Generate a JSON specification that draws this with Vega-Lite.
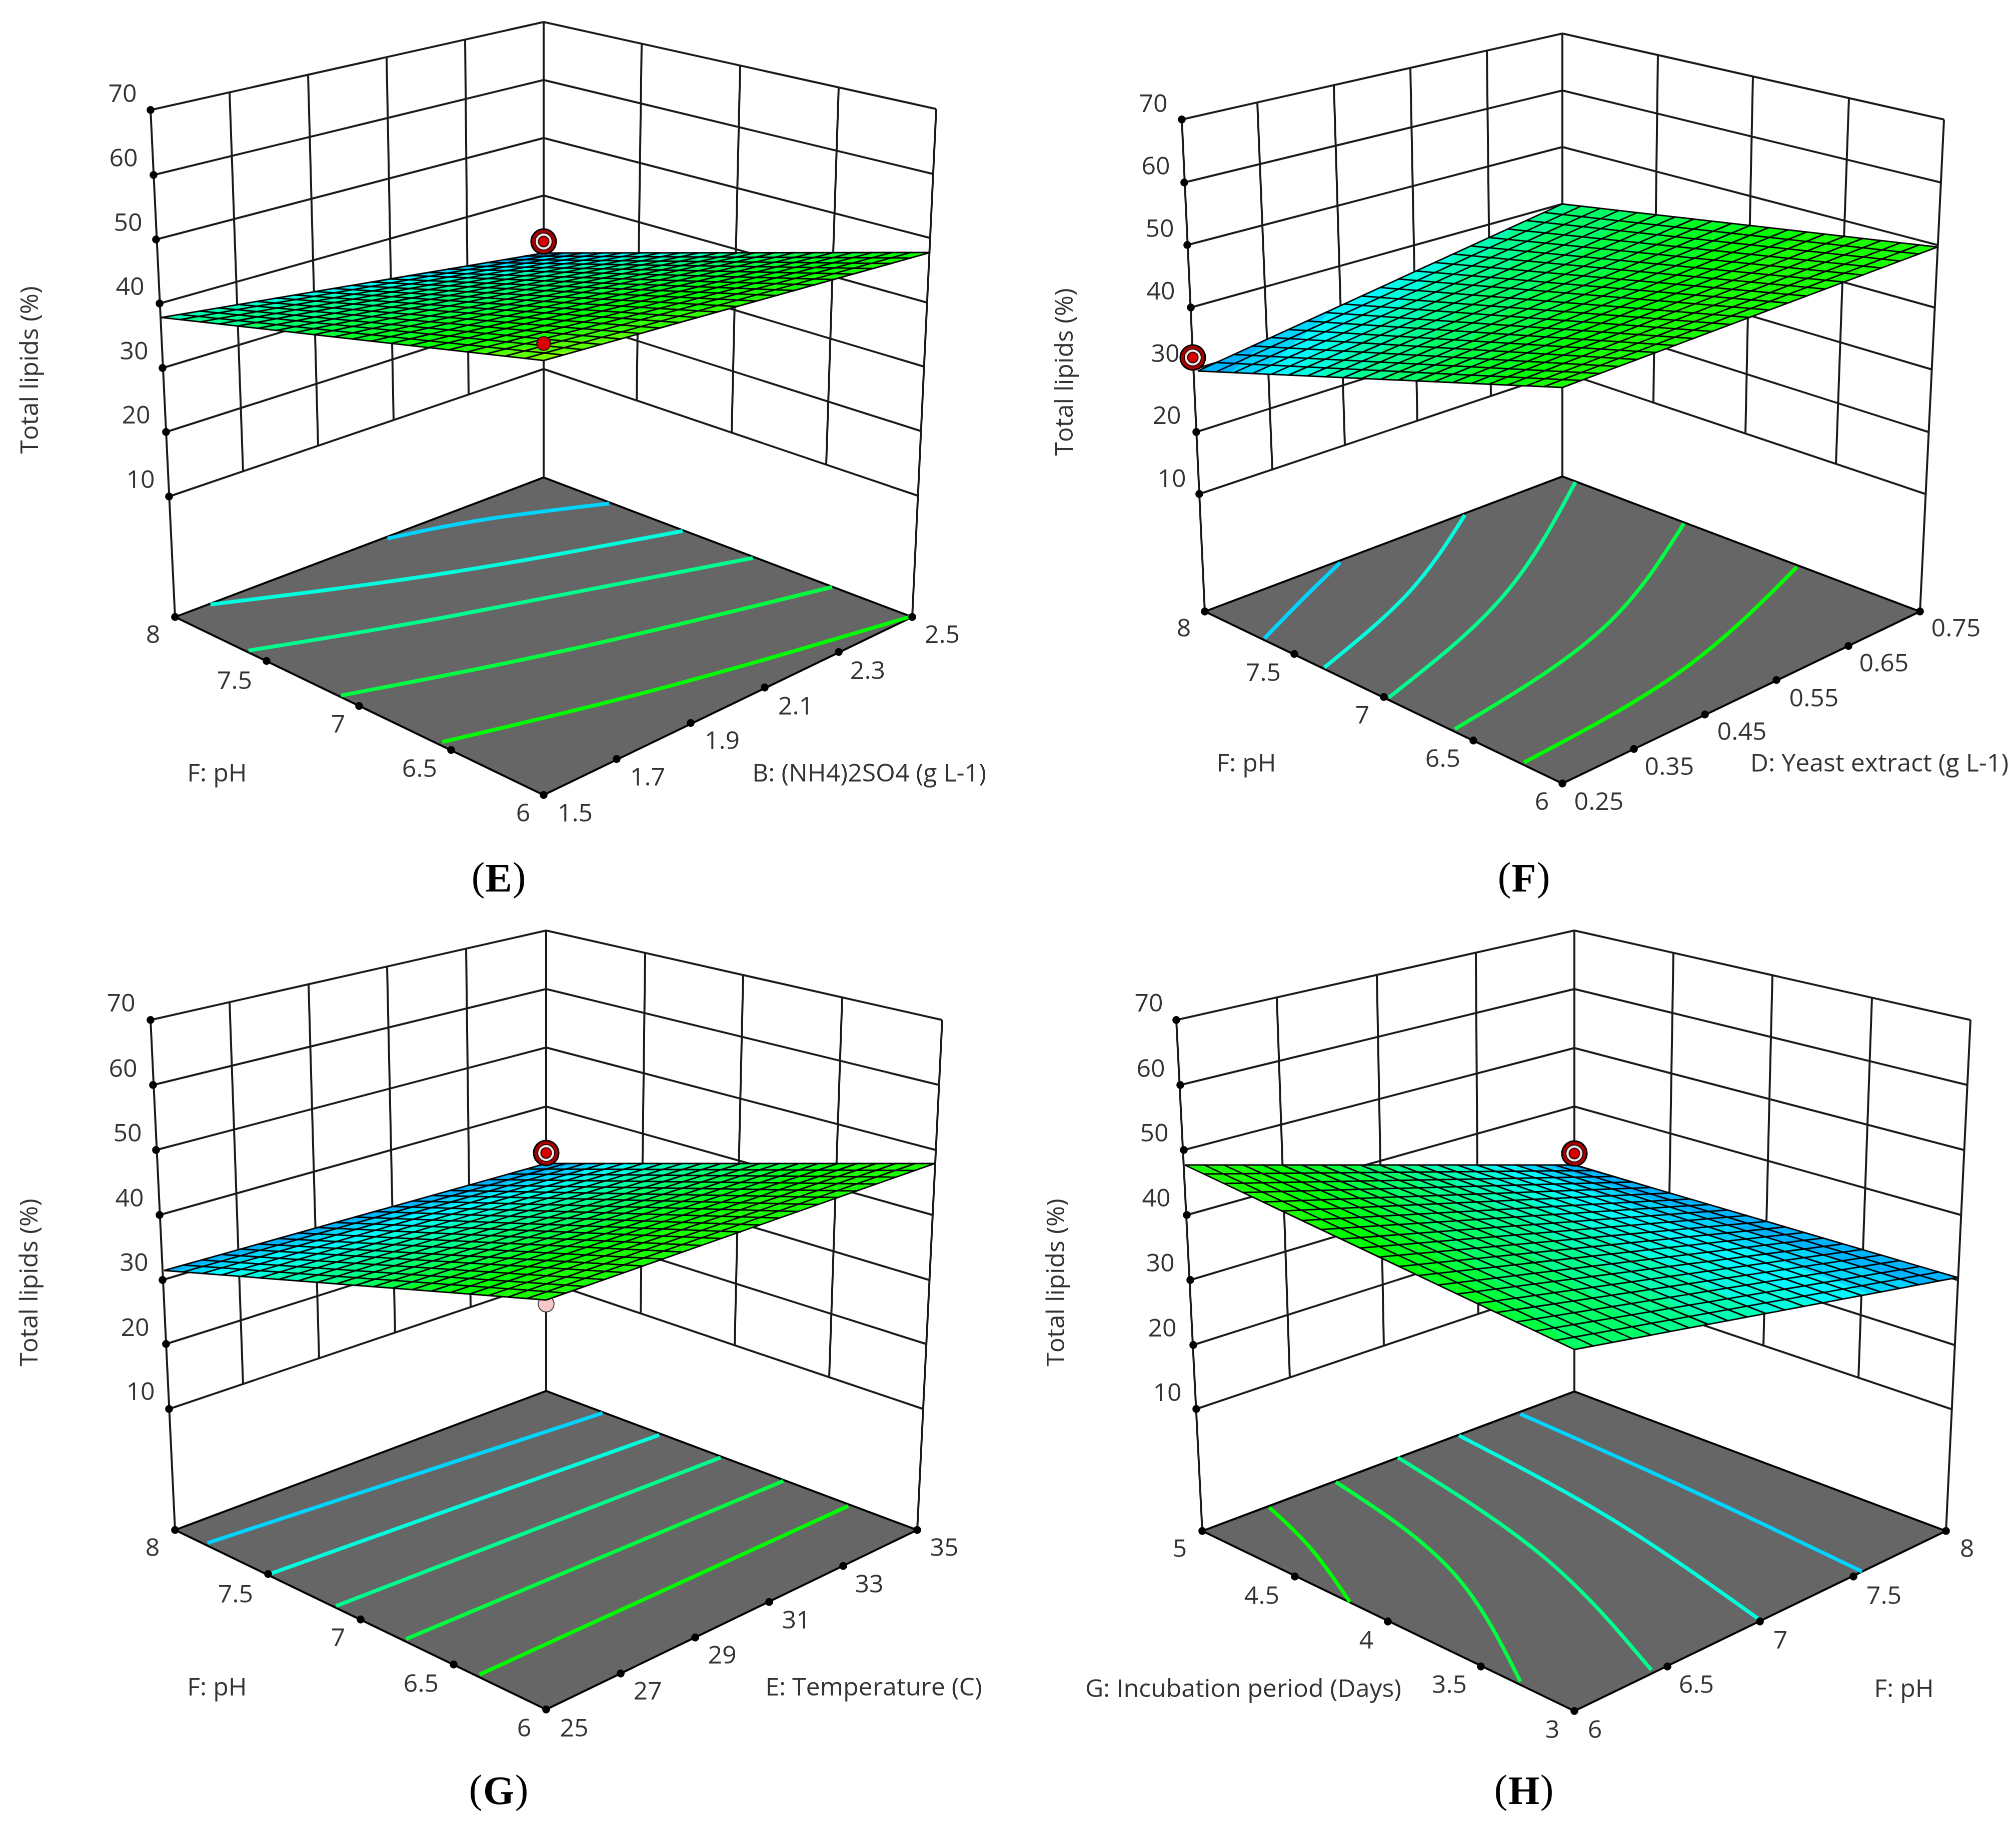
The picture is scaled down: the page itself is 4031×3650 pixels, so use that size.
{"$schema":"https://vega.github.io/schema/vega-lite/v6.json","width":4031,"height":3650,"autosize":{"type":"fit","contains":"padding"},"padding":0,"background":"white","config":{"view":{"stroke":null}},
"datasets":{
"walls":[
{"x":301,"y":220,"x2":1087,"y2":44},{"x":307,"y":350,"x2":1087,"y2":160},{"x":312,"y":479,"x2":1087,"y2":276},{"x":319,"y":607,"x2":1087,"y2":391},{"x":325,"y":736,"x2":1087,"y2":506},{"x":332,"y":864,"x2":1087,"y2":622},{"x":338,"y":993,"x2":1087,"y2":738},
{"x":1087,"y":44,"x2":1872,"y2":218},{"x":1087,"y":160,"x2":1866,"y2":348},{"x":1087,"y":276,"x2":1860,"y2":476},{"x":1087,"y":391,"x2":1853,"y2":605},{"x":1087,"y":506,"x2":1847,"y2":733},{"x":1087,"y":622,"x2":1841,"y2":862},{"x":1087,"y":738,"x2":1834,"y2":991},
{"x":301,"y":220,"x2":350,"y2":1234},{"x":1087,"y":44,"x2":1087,"y2":955},{"x":1872,"y":218,"x2":1824,"y2":1234},{"x":459,"y":185,"x2":486,"y2":942},{"x":616,"y":149,"x2":636,"y2":891},{"x":773,"y":115,"x2":787,"y2":840},{"x":930,"y":79,"x2":937,"y2":789},{"x":1283,"y":87,"x2":1273,"y2":801},{"x":1480,"y":131,"x2":1463,"y2":866},{"x":1677,"y":174,"x2":1652,"y2":929},
{"x":2363,"y":239,"x2":3124,"y2":67},{"x":2368,"y":365,"x2":3124,"y2":181},{"x":2374,"y":490,"x2":3124,"y2":294},{"x":2381,"y":615,"x2":3124,"y2":408},{"x":2386,"y":739,"x2":3124,"y2":520},{"x":2392,"y":864,"x2":3124,"y2":631},{"x":2398,"y":988,"x2":3124,"y2":744},
{"x":3124,"y":67,"x2":3887,"y2":239},{"x":3124,"y":181,"x2":3881,"y2":365},{"x":3124,"y":294,"x2":3874,"y2":490},{"x":3124,"y":408,"x2":3868,"y2":615},{"x":3124,"y":520,"x2":3863,"y2":739},{"x":3124,"y":631,"x2":3856,"y2":864},{"x":3124,"y":744,"x2":3850,"y2":988},
{"x":2363,"y":239,"x2":2409,"y2":1223},{"x":3124,"y":67,"x2":3124,"y2":953},{"x":3887,"y":239,"x2":3839,"y2":1223},{"x":2514,"y":204,"x2":2544,"y2":939},{"x":2667,"y":170,"x2":2689,"y2":890},{"x":2820,"y":135,"x2":2834,"y2":841},{"x":2973,"y":101,"x2":2981,"y2":792},{"x":3315,"y":109,"x2":3306,"y2":805},{"x":3505,"y":152,"x2":3490,"y2":867},{"x":3697,"y":196,"x2":3671,"y2":928},
{"x":301,"y":2040,"x2":1092,"y2":1861},{"x":306,"y":2170,"x2":1092,"y2":1978},{"x":312,"y":2300,"x2":1092,"y2":2095},{"x":319,"y":2430,"x2":1092,"y2":2213},{"x":325,"y":2560,"x2":1092,"y2":2330},{"x":332,"y":2688,"x2":1092,"y2":2447},{"x":338,"y":2818,"x2":1092,"y2":2563},
{"x":1092,"y":1861,"x2":1884,"y2":2040},{"x":1092,"y":1978,"x2":1878,"y2":2170},{"x":1092,"y":2095,"x2":1871,"y2":2300},{"x":1092,"y":2213,"x2":1865,"y2":2430},{"x":1092,"y":2330,"x2":1858,"y2":2560},{"x":1092,"y":2447,"x2":1852,"y2":2688},{"x":1092,"y":2563,"x2":1846,"y2":2818},
{"x":301,"y":2040,"x2":350,"y2":3060},{"x":1092,"y":1861,"x2":1092,"y2":2782},{"x":1884,"y":2040,"x2":1834,"y2":3060},{"x":459,"y":2004,"x2":486,"y2":2769},{"x":617,"y":1969,"x2":638,"y2":2717},{"x":774,"y":1933,"x2":790,"y2":2666},{"x":932,"y":1897,"x2":941,"y2":2614},{"x":1290,"y":1906,"x2":1281,"y2":2627},{"x":1486,"y":1950,"x2":1469,"y2":2691},{"x":1684,"y":1995,"x2":1658,"y2":2754},
{"x":2352,"y":2040,"x2":3148,"y2":1861},{"x":2360,"y":2170,"x2":3148,"y2":1978},{"x":2367,"y":2300,"x2":3148,"y2":2096},{"x":2373,"y":2430,"x2":3148,"y2":2213},{"x":2380,"y":2560,"x2":3148,"y2":2330},{"x":2386,"y":2690,"x2":3148,"y2":2447},{"x":2392,"y":2818,"x2":3148,"y2":2563},
{"x":3148,"y":1861,"x2":3940,"y2":2040},{"x":3148,"y":1978,"x2":3934,"y2":2170},{"x":3148,"y":2096,"x2":3927,"y2":2300},{"x":3148,"y":2213,"x2":3921,"y2":2430},{"x":3148,"y":2330,"x2":3914,"y2":2560},{"x":3148,"y":2447,"x2":3908,"y2":2690},{"x":3148,"y":2563,"x2":3901,"y2":2818},
{"x":2352,"y":2040,"x2":2404,"y2":3062},{"x":3148,"y":1861,"x2":3148,"y2":2783},{"x":3940,"y":2040,"x2":3891,"y2":3062},{"x":2553,"y":1995,"x2":2579,"y2":2756},{"x":2753,"y":1950,"x2":2767,"y2":2692},{"x":2951,"y":1906,"x2":2956,"y2":2628},{"x":3346,"y":1906,"x2":3334,"y2":2626},{"x":3544,"y":1950,"x2":3526,"y2":2691},{"x":3743,"y":1995,"x2":3716,"y2":2756}],
"floor":[
{"id":"E","x":350,"y":1234},{"id":"E","x":1087,"y":955},{"id":"E","x":1824,"y":1234},{"id":"E","x":1087,"y":1590},{"id":"E","x":350,"y":1234},
{"id":"F","x":2409,"y":1223},{"id":"F","x":3124,"y":953},{"id":"F","x":3839,"y":1223},{"id":"F","x":3124,"y":1567},{"id":"F","x":2409,"y":1223},
{"id":"G","x":350,"y":3060},{"id":"G","x":1092,"y":2782},{"id":"G","x":1834,"y":3060},{"id":"G","x":1092,"y":3419},{"id":"G","x":350,"y":3060},
{"id":"H","x":2404,"y":3062},{"id":"H","x":3148,"y":2783},{"id":"H","x":3891,"y":3062},{"id":"H","x":3148,"y":3422},{"id":"H","x":2404,"y":3062}],
"contours":[
{"id":"E1","lipid":30.3,"x":775,"y":1077},{"id":"E1","lipid":30.3,"x":969,"y":1039},{"id":"E1","lipid":30.3,"x":1218,"y":1007},
{"id":"E2","lipid":33.3,"x":421,"y":1209},{"id":"E2","lipid":33.3,"x":893,"y":1146},{"id":"E2","lipid":33.3,"x":1365,"y":1062},
{"id":"E3","lipid":36.5,"x":497,"y":1301},{"id":"E3","lipid":36.5,"x":893,"y":1234},{"id":"E3","lipid":36.5,"x":1505,"y":1116},
{"id":"E4","lipid":39.5,"x":682,"y":1391},{"id":"E4","lipid":39.5,"x":1148,"y":1297},{"id":"E4","lipid":39.5,"x":1664,"y":1174},
{"id":"E5","lipid":42,"x":884,"y":1484},{"id":"E5","lipid":42,"x":1339,"y":1372},{"id":"E5","lipid":42,"x":1818,"y":1234},
{"id":"F1","lipid":30.3,"x":2680,"y":1125},{"id":"F1","lipid":30.3,"x":2609,"y":1194},{"id":"F1","lipid":30.3,"x":2528,"y":1277},
{"id":"F2","lipid":33.3,"x":2929,"y":1030},{"id":"F2","lipid":33.3,"x":2816,"y":1186},{"id":"F2","lipid":33.3,"x":2648,"y":1335},
{"id":"F3","lipid":36.5,"x":3150,"y":964},{"id":"F3","lipid":36.5,"x":3004,"y":1194},{"id":"F3","lipid":36.5,"x":2777,"y":1395},
{"id":"F4","lipid":39.5,"x":3367,"y":1047},{"id":"F4","lipid":39.5,"x":3198,"y":1263},{"id":"F4","lipid":39.5,"x":2909,"y":1458},
{"id":"F5","lipid":42,"x":3593,"y":1134},{"id":"F5","lipid":42,"x":3360,"y":1343},{"id":"F5","lipid":42,"x":3047,"y":1525},
{"id":"G1","lipid":30.3,"x":415,"y":3086},{"id":"G1","lipid":30.3,"x":1205,"y":2826},
{"id":"G2","lipid":33.3,"x":542,"y":3147},{"id":"G2","lipid":33.3,"x":1318,"y":2870},
{"id":"G3","lipid":36.5,"x":672,"y":3212},{"id":"G3","lipid":36.5,"x":1441,"y":2915},
{"id":"G4","lipid":39.5,"x":812,"y":3278},{"id":"G4","lipid":39.5,"x":1566,"y":2962},
{"id":"G5","lipid":42,"x":959,"y":3349},{"id":"G5","lipid":42,"x":1696,"y":3012},
{"id":"H1","lipid":42,"x":2538,"y":3015},{"id":"H1","lipid":42,"x":2622,"y":3098},{"id":"H1","lipid":42,"x":2699,"y":3204},
{"id":"H2","lipid":39.5,"x":2671,"y":2964},{"id":"H2","lipid":39.5,"x":2900,"y":3139},{"id":"H2","lipid":39.5,"x":3040,"y":3363},
{"id":"H3","lipid":36.5,"x":2795,"y":2915},{"id":"H3","lipid":36.5,"x":3088,"y":3115},{"id":"H3","lipid":36.5,"x":3302,"y":3340},
{"id":"H4","lipid":33.3,"x":2917,"y":2871},{"id":"H4","lipid":33.3,"x":3224,"y":3039},{"id":"H4","lipid":33.3,"x":3515,"y":3237},
{"id":"H5","lipid":30.3,"x":3040,"y":2828},{"id":"H5","lipid":30.3,"x":3380,"y":2980},{"id":"H5","lipid":30.3,"x":3723,"y":3143}],
"dots":[
{"x":301,"y":220},{"x":307,"y":350},{"x":312,"y":479},{"x":319,"y":607},{"x":325,"y":736},{"x":332,"y":864},{"x":338,"y":993},{"x":350,"y":1234},{"x":533,"y":1322},{"x":718,"y":1412},{"x":902,"y":1500},{"x":1087,"y":1590},{"x":1233,"y":1518},{"x":1381,"y":1446},{"x":1529,"y":1375},{"x":1677,"y":1304},{"x":1824,"y":1234},
{"x":2363,"y":239},{"x":2368,"y":365},{"x":2374,"y":490},{"x":2381,"y":615},{"x":2392,"y":864},{"x":2398,"y":988},{"x":2409,"y":1223},{"x":2588,"y":1308},{"x":2767,"y":1394},{"x":2946,"y":1481},{"x":3124,"y":1567},{"x":3267,"y":1498},{"x":3409,"y":1429},{"x":3552,"y":1360},{"x":3696,"y":1292},{"x":3839,"y":1223},
{"x":301,"y":2040},{"x":306,"y":2170},{"x":312,"y":2300},{"x":319,"y":2430},{"x":325,"y":2560},{"x":332,"y":2688},{"x":338,"y":2818},{"x":350,"y":3060},{"x":536,"y":3148},{"x":721,"y":3239},{"x":907,"y":3329},{"x":1092,"y":3419},{"x":1241,"y":3347},{"x":1390,"y":3275},{"x":1538,"y":3204},{"x":1686,"y":3132},{"x":1834,"y":3060},
{"x":2352,"y":2040},{"x":2360,"y":2170},{"x":2367,"y":2300},{"x":2373,"y":2430},{"x":2380,"y":2560},{"x":2386,"y":2690},{"x":2392,"y":2818},{"x":2404,"y":3062},{"x":2589,"y":3153},{"x":2775,"y":3243},{"x":2961,"y":3333},{"x":3148,"y":3422},{"x":3334,"y":3333},{"x":3519,"y":3243},{"x":3706,"y":3153},{"x":3891,"y":3062}],
"surface":[
{"id":"E47","lipid":47,"x":323,"y":635},{"id":"E47","lipid":47,"x":1087,"y":506},{"id":"E47","lipid":47,"x":1860,"y":505},{"id":"E47","lipid":47,"x":1087,"y":721},
{"id":"E45","lipid":45.5,"x":323,"y":635},{"id":"E45","lipid":45.5,"x":1087,"y":506},{"id":"E45","lipid":45.5,"x":1860,"y":505},{"id":"E45","lipid":45.5,"x":1164,"y":699},{"id":"E45","lipid":45.5,"x":1033,"y":715},
{"id":"E44","lipid":44,"x":323,"y":635},{"id":"E44","lipid":44,"x":1087,"y":506},{"id":"E44","lipid":44,"x":1860,"y":505},{"id":"E44","lipid":44,"x":1319,"y":656},{"id":"E44","lipid":44,"x":972,"y":708},
{"id":"E43","lipid":43,"x":323,"y":635},{"id":"E43","lipid":43,"x":1087,"y":506},{"id":"E43","lipid":43,"x":1860,"y":505},{"id":"E43","lipid":43,"x":1551,"y":591},{"id":"E43","lipid":43,"x":927,"y":703},
{"id":"E42","lipid":42,"x":323,"y":635},{"id":"E42","lipid":42,"x":1087,"y":506},{"id":"E42","lipid":42,"x":1852,"y":505},{"id":"E42","lipid":42,"x":877,"y":697},
{"id":"E41","lipid":40.75,"x":323,"y":635},{"id":"E41","lipid":40.75,"x":1087,"y":506},{"id":"E41","lipid":40.75,"x":1773,"y":505},{"id":"E41","lipid":40.75,"x":773,"y":686},
{"id":"E40","lipid":39.5,"x":323,"y":635},{"id":"E40","lipid":39.5,"x":1087,"y":506},{"id":"E40","lipid":39.5,"x":1693,"y":505},{"id":"E40","lipid":39.5,"x":668,"y":674},
{"id":"E38","lipid":38,"x":323,"y":635},{"id":"E38","lipid":38,"x":1087,"y":506},{"id":"E38","lipid":38,"x":1609,"y":505},{"id":"E38","lipid":38,"x":572,"y":663},
{"id":"E36","lipid":36.5,"x":323,"y":635},{"id":"E36","lipid":36.5,"x":1087,"y":506},{"id":"E36","lipid":36.5,"x":1525,"y":505},{"id":"E36","lipid":36.5,"x":476,"y":652},
{"id":"E35","lipid":34.9,"x":323,"y":635},{"id":"E35","lipid":34.9,"x":1087,"y":506},{"id":"E35","lipid":34.9,"x":1452,"y":505},{"id":"E35","lipid":34.9,"x":361,"y":639},
{"id":"E33","lipid":33.3,"x":397,"y":622},{"id":"E33","lipid":33.3,"x":1087,"y":506},{"id":"E33","lipid":33.3,"x":1378,"y":505},
{"id":"E32","lipid":31.8,"x":581,"y":592},{"id":"E32","lipid":31.8,"x":1087,"y":506},{"id":"E32","lipid":31.8,"x":1302,"y":505},
{"id":"E30","lipid":30.3,"x":765,"y":560},{"id":"E30","lipid":30.3,"x":1087,"y":506},{"id":"E30","lipid":30.3,"x":1225,"y":505},
{"id":"E29","lipid":29,"x":927,"y":533},{"id":"E29","lipid":29,"x":1087,"y":506},{"id":"E29","lipid":29,"x":1157,"y":505},
{"id":"F43","lipid":43,"x":2395,"y":742},{"id":"F43","lipid":43,"x":3124,"y":408},{"id":"F43","lipid":43,"x":3874,"y":494},{"id":"F43","lipid":43,"x":3124,"y":775},
{"id":"F42","lipid":42,"x":2395,"y":742},{"id":"F42","lipid":42,"x":3124,"y":408},{"id":"F42","lipid":42,"x":3616,"y":464},{"id":"F42","lipid":42,"x":3045,"y":771},
{"id":"F41","lipid":40.75,"x":2395,"y":742},{"id":"F41","lipid":40.75,"x":3124,"y":408},{"id":"F41","lipid":40.75,"x":3497,"y":451},{"id":"F41","lipid":40.75,"x":2975,"y":768},
{"id":"F40","lipid":39.5,"x":2395,"y":742},{"id":"F40","lipid":39.5,"x":3124,"y":408},{"id":"F40","lipid":39.5,"x":3378,"y":437},{"id":"F40","lipid":39.5,"x":2905,"y":765},
{"id":"F38","lipid":38,"x":2395,"y":742},{"id":"F38","lipid":38,"x":3124,"y":408},{"id":"F38","lipid":38,"x":3265,"y":424},{"id":"F38","lipid":38,"x":2837,"y":762},
{"id":"F36","lipid":36.5,"x":2395,"y":742},{"id":"F36","lipid":36.5,"x":3124,"y":408},{"id":"F36","lipid":36.5,"x":3151,"y":411},{"id":"F36","lipid":36.5,"x":2770,"y":759},
{"id":"F35","lipid":34.9,"x":2395,"y":742},{"id":"F35","lipid":34.9,"x":3037,"y":448},{"id":"F35","lipid":34.9,"x":2704,"y":756},
{"id":"F33","lipid":33.3,"x":2395,"y":742},{"id":"F33","lipid":33.3,"x":2924,"y":500},{"id":"F33","lipid":33.3,"x":2638,"y":753},
{"id":"F32","lipid":31.8,"x":2395,"y":742},{"id":"F32","lipid":31.8,"x":2798,"y":558},{"id":"F32","lipid":31.8,"x":2577,"y":750},
{"id":"F30","lipid":30.3,"x":2395,"y":742},{"id":"F30","lipid":30.3,"x":2671,"y":615},{"id":"F30","lipid":30.3,"x":2517,"y":748},
{"id":"F29","lipid":29,"x":2395,"y":742},{"id":"F29","lipid":29,"x":2534,"y":679},{"id":"F29","lipid":29,"x":2461,"y":745},
{"id":"G43","lipid":43,"x":328,"y":2541},{"id":"G43","lipid":43,"x":1092,"y":2327},{"id":"G43","lipid":43,"x":1869,"y":2327},{"id":"G43","lipid":43,"x":1092,"y":2600},
{"id":"G42","lipid":42,"x":328,"y":2541},{"id":"G42","lipid":42,"x":1092,"y":2327},{"id":"G42","lipid":42,"x":1724,"y":2327},{"id":"G42","lipid":42,"x":955,"y":2589},
{"id":"G41","lipid":40.75,"x":328,"y":2541},{"id":"G41","lipid":40.75,"x":1092,"y":2327},{"id":"G41","lipid":40.75,"x":1656,"y":2327},{"id":"G41","lipid":40.75,"x":880,"y":2584},
{"id":"G40","lipid":39.5,"x":328,"y":2541},{"id":"G40","lipid":39.5,"x":1092,"y":2327},{"id":"G40","lipid":39.5,"x":1588,"y":2327},{"id":"G40","lipid":39.5,"x":805,"y":2578},
{"id":"G38","lipid":38,"x":328,"y":2541},{"id":"G38","lipid":38,"x":1092,"y":2327},{"id":"G38","lipid":38,"x":1523,"y":2327},{"id":"G38","lipid":38,"x":733,"y":2572},
{"id":"G36","lipid":36.5,"x":328,"y":2541},{"id":"G36","lipid":36.5,"x":1092,"y":2327},{"id":"G36","lipid":36.5,"x":1458,"y":2327},{"id":"G36","lipid":36.5,"x":660,"y":2567},
{"id":"G35","lipid":34.9,"x":328,"y":2541},{"id":"G35","lipid":34.9,"x":1092,"y":2327},{"id":"G35","lipid":34.9,"x":1393,"y":2327},{"id":"G35","lipid":34.9,"x":593,"y":2562},
{"id":"G33","lipid":33.3,"x":328,"y":2541},{"id":"G33","lipid":33.3,"x":1092,"y":2327},{"id":"G33","lipid":33.3,"x":1328,"y":2327},{"id":"G33","lipid":33.3,"x":526,"y":2556},
{"id":"G32","lipid":31.8,"x":328,"y":2541},{"id":"G32","lipid":31.8,"x":1092,"y":2327},{"id":"G32","lipid":31.8,"x":1270,"y":2327},{"id":"G32","lipid":31.8,"x":461,"y":2551},
{"id":"G30","lipid":30.3,"x":328,"y":2541},{"id":"G30","lipid":30.3,"x":1092,"y":2327},{"id":"G30","lipid":30.3,"x":1211,"y":2327},{"id":"G30","lipid":30.3,"x":395,"y":2546},
{"id":"G29","lipid":29,"x":328,"y":2541},{"id":"G29","lipid":29,"x":1092,"y":2327},{"id":"G29","lipid":29,"x":1154,"y":2327},{"id":"G29","lipid":29,"x":351,"y":2543},
{"id":"H43","lipid":43,"x":2369,"y":2330},{"id":"H43","lipid":43,"x":3148,"y":2330},{"id":"H43","lipid":43,"x":3914,"y":2555},{"id":"H43","lipid":43,"x":3148,"y":2699},
{"id":"H42","lipid":42,"x":2509,"y":2330},{"id":"H42","lipid":42,"x":3148,"y":2330},{"id":"H42","lipid":42,"x":3914,"y":2555},{"id":"H42","lipid":42,"x":3148,"y":2699},{"id":"H42","lipid":42,"x":2678,"y":2476},
{"id":"H41","lipid":40.75,"x":2579,"y":2330},{"id":"H41","lipid":40.75,"x":3148,"y":2330},{"id":"H41","lipid":40.75,"x":3914,"y":2555},{"id":"H41","lipid":40.75,"x":3148,"y":2699},{"id":"H41","lipid":40.75,"x":2857,"y":2561},
{"id":"H40","lipid":39.5,"x":2649,"y":2330},{"id":"H40","lipid":39.5,"x":3148,"y":2330},{"id":"H40","lipid":39.5,"x":3914,"y":2555},{"id":"H40","lipid":39.5,"x":3148,"y":2699},{"id":"H40","lipid":39.5,"x":3035,"y":2646},
{"id":"H38","lipid":38,"x":2714,"y":2330},{"id":"H38","lipid":38,"x":3148,"y":2330},{"id":"H38","lipid":38,"x":3914,"y":2555},{"id":"H38","lipid":38,"x":3148,"y":2699},
{"id":"H36","lipid":36.5,"x":2779,"y":2330},{"id":"H36","lipid":36.5,"x":3148,"y":2330},{"id":"H36","lipid":36.5,"x":3914,"y":2555},{"id":"H36","lipid":36.5,"x":3307,"y":2669},
{"id":"H35","lipid":34.9,"x":2843,"y":2330},{"id":"H35","lipid":34.9,"x":3148,"y":2330},{"id":"H35","lipid":34.9,"x":3914,"y":2555},{"id":"H35","lipid":34.9,"x":3417,"y":2648},
{"id":"H33","lipid":33.3,"x":2907,"y":2330},{"id":"H33","lipid":33.3,"x":3148,"y":2330},{"id":"H33","lipid":33.3,"x":3914,"y":2555},{"id":"H33","lipid":33.3,"x":3527,"y":2628},
{"id":"H32","lipid":31.8,"x":2971,"y":2330},{"id":"H32","lipid":31.8,"x":3148,"y":2330},{"id":"H32","lipid":31.8,"x":3914,"y":2555},{"id":"H32","lipid":31.8,"x":3634,"y":2608},
{"id":"H30","lipid":30.3,"x":3035,"y":2330},{"id":"H30","lipid":30.3,"x":3148,"y":2330},{"id":"H30","lipid":30.3,"x":3914,"y":2555},{"id":"H30","lipid":30.3,"x":3740,"y":2588},
{"id":"H29","lipid":29,"x":3093,"y":2330},{"id":"H29","lipid":29,"x":3148,"y":2330},{"id":"H29","lipid":29,"x":3914,"y":2555},{"id":"H29","lipid":29,"x":3830,"y":2571}],
"mesh":[
{"x":323,"y":635,"x2":1087,"y2":721},{"x":361,"y":629,"x2":1126,"y2":710},{"x":399,"y":622,"x2":1164,"y2":699},{"x":438,"y":616,"x2":1203,"y2":689},{"x":476,"y":609,"x2":1242,"y2":678},{"x":514,"y":603,"x2":1280,"y2":667},{"x":552,"y":596,"x2":1319,"y2":656},{"x":590,"y":590,"x2":1358,"y2":645},{"x":629,"y":583,"x2":1396,"y2":635},{"x":667,"y":577,"x2":1435,"y2":624},{"x":705,"y":571,"x2":1474,"y2":613},{"x":743,"y":564,"x2":1512,"y2":602},{"x":781,"y":558,"x2":1551,"y2":591},{"x":820,"y":551,"x2":1589,"y2":581},{"x":858,"y":545,"x2":1628,"y2":570},{"x":896,"y":538,"x2":1667,"y2":559},{"x":934,"y":532,"x2":1705,"y2":548},{"x":972,"y":525,"x2":1744,"y2":537},{"x":1011,"y":519,"x2":1783,"y2":527},{"x":1049,"y":512,"x2":1821,"y2":516},{"x":1087,"y":506,"x2":1860,"y2":505},
{"x":323,"y":635,"x2":1087,"y2":506},{"x":361,"y":639,"x2":1126,"y2":506},{"x":399,"y":644,"x2":1164,"y2":506},{"x":438,"y":648,"x2":1203,"y2":506},{"x":476,"y":652,"x2":1242,"y2":506},{"x":514,"y":657,"x2":1280,"y2":506},{"x":552,"y":661,"x2":1319,"y2":506},{"x":590,"y":665,"x2":1358,"y2":506},{"x":629,"y":669,"x2":1396,"y2":506},{"x":667,"y":674,"x2":1435,"y2":506},{"x":705,"y":678,"x2":1474,"y2":506},{"x":743,"y":682,"x2":1512,"y2":505},{"x":781,"y":687,"x2":1551,"y2":505},{"x":820,"y":691,"x2":1589,"y2":505},{"x":858,"y":695,"x2":1628,"y2":505},{"x":896,"y":700,"x2":1667,"y2":505},{"x":934,"y":704,"x2":1705,"y2":505},{"x":972,"y":708,"x2":1744,"y2":505},{"x":1011,"y":712,"x2":1783,"y2":505},{"x":1049,"y":717,"x2":1821,"y2":505},{"x":1087,"y":721,"x2":1860,"y2":505},
{"x":2395,"y":742,"x2":3124,"y2":775},{"x":2431,"y":725,"x2":3162,"y2":761},{"x":2468,"y":709,"x2":3199,"y2":747},{"x":2504,"y":692,"x2":3237,"y2":733},{"x":2541,"y":675,"x2":3274,"y2":719},{"x":2577,"y":659,"x2":3312,"y2":705},{"x":2614,"y":642,"x2":3349,"y2":691},{"x":2650,"y":625,"x2":3387,"y2":677},{"x":2687,"y":608,"x2":3424,"y2":663},{"x":2723,"y":592,"x2":3462,"y2":649},{"x":2760,"y":575,"x2":3499,"y2":635},{"x":2796,"y":558,"x2":3537,"y2":620},{"x":2832,"y":542,"x2":3574,"y2":606},{"x":2869,"y":525,"x2":3612,"y2":592},{"x":2905,"y":508,"x2":3649,"y2":578},{"x":2942,"y":492,"x2":3687,"y2":564},{"x":2978,"y":475,"x2":3724,"y2":550},{"x":3015,"y":458,"x2":3762,"y2":536},{"x":3051,"y":441,"x2":3799,"y2":522},{"x":3088,"y":425,"x2":3837,"y2":508},{"x":3124,"y":408,"x2":3874,"y2":494},
{"x":2395,"y":742,"x2":3124,"y2":408},{"x":2431,"y":744,"x2":3162,"y2":412},{"x":2468,"y":745,"x2":3199,"y2":417},{"x":2504,"y":747,"x2":3237,"y2":421},{"x":2541,"y":749,"x2":3274,"y2":425},{"x":2577,"y":750,"x2":3312,"y2":430},{"x":2614,"y":752,"x2":3349,"y2":434},{"x":2650,"y":754,"x2":3387,"y2":438},{"x":2687,"y":755,"x2":3424,"y2":442},{"x":2723,"y":757,"x2":3462,"y2":447},{"x":2760,"y":759,"x2":3499,"y2":451},{"x":2796,"y":760,"x2":3537,"y2":455},{"x":2832,"y":762,"x2":3574,"y2":460},{"x":2869,"y":763,"x2":3612,"y2":464},{"x":2905,"y":765,"x2":3649,"y2":468},{"x":2942,"y":767,"x2":3687,"y2":473},{"x":2978,"y":768,"x2":3724,"y2":477},{"x":3015,"y":770,"x2":3762,"y2":481},{"x":3051,"y":772,"x2":3799,"y2":486},{"x":3088,"y":773,"x2":3837,"y2":490},{"x":3124,"y":775,"x2":3874,"y2":494},
{"x":328,"y":2541,"x2":1092,"y2":2600},{"x":366,"y":2530,"x2":1131,"y2":2586},{"x":404,"y":2520,"x2":1170,"y2":2573},{"x":443,"y":2509,"x2":1209,"y2":2559},{"x":481,"y":2498,"x2":1247,"y2":2545},{"x":519,"y":2488,"x2":1286,"y2":2532},{"x":557,"y":2477,"x2":1325,"y2":2518},{"x":595,"y":2466,"x2":1364,"y2":2504},{"x":634,"y":2455,"x2":1403,"y2":2491},{"x":672,"y":2445,"x2":1442,"y2":2477},{"x":710,"y":2434,"x2":1481,"y2":2464},{"x":748,"y":2423,"x2":1519,"y2":2450},{"x":786,"y":2413,"x2":1558,"y2":2436},{"x":825,"y":2402,"x2":1597,"y2":2423},{"x":863,"y":2391,"x2":1636,"y2":2409},{"x":901,"y":2381,"x2":1675,"y2":2395},{"x":939,"y":2370,"x2":1714,"y2":2382},{"x":977,"y":2359,"x2":1752,"y2":2368},{"x":1016,"y":2348,"x2":1791,"y2":2354},{"x":1054,"y":2338,"x2":1830,"y2":2341},{"x":1092,"y":2327,"x2":1869,"y2":2327},
{"x":328,"y":2541,"x2":1092,"y2":2327},{"x":366,"y":2544,"x2":1131,"y2":2327},{"x":404,"y":2547,"x2":1170,"y2":2327},{"x":443,"y":2550,"x2":1209,"y2":2327},{"x":481,"y":2553,"x2":1247,"y2":2327},{"x":519,"y":2556,"x2":1286,"y2":2327},{"x":557,"y":2559,"x2":1325,"y2":2327},{"x":595,"y":2562,"x2":1364,"y2":2327},{"x":634,"y":2565,"x2":1403,"y2":2327},{"x":672,"y":2568,"x2":1442,"y2":2327},{"x":710,"y":2571,"x2":1481,"y2":2327},{"x":748,"y":2573,"x2":1519,"y2":2327},{"x":786,"y":2576,"x2":1558,"y2":2327},{"x":825,"y":2579,"x2":1597,"y2":2327},{"x":863,"y":2582,"x2":1636,"y2":2327},{"x":901,"y":2585,"x2":1675,"y2":2327},{"x":939,"y":2588,"x2":1714,"y2":2327},{"x":977,"y":2591,"x2":1752,"y2":2327},{"x":1016,"y":2594,"x2":1791,"y2":2327},{"x":1054,"y":2597,"x2":1830,"y2":2327},{"x":1092,"y":2600,"x2":1869,"y2":2327},
{"x":2369,"y":2330,"x2":3148,"y2":2699},{"x":2408,"y":2330,"x2":3186,"y2":2692},{"x":2447,"y":2330,"x2":3225,"y2":2685},{"x":2486,"y":2330,"x2":3263,"y2":2677},{"x":2525,"y":2330,"x2":3301,"y2":2670},{"x":2564,"y":2330,"x2":3340,"y2":2663},{"x":2603,"y":2330,"x2":3378,"y2":2656},{"x":2642,"y":2330,"x2":3416,"y2":2649},{"x":2681,"y":2330,"x2":3454,"y2":2641},{"x":2720,"y":2330,"x2":3493,"y2":2634},{"x":2759,"y":2330,"x2":3531,"y2":2627},{"x":2797,"y":2330,"x2":3569,"y2":2620},{"x":2836,"y":2330,"x2":3608,"y2":2613},{"x":2875,"y":2330,"x2":3646,"y2":2606},{"x":2914,"y":2330,"x2":3684,"y2":2598},{"x":2953,"y":2330,"x2":3723,"y2":2591},{"x":2992,"y":2330,"x2":3761,"y2":2584},{"x":3031,"y":2330,"x2":3799,"y2":2577},{"x":3070,"y":2330,"x2":3838,"y2":2570},{"x":3109,"y":2330,"x2":3876,"y2":2562},{"x":3148,"y":2330,"x2":3914,"y2":2555},
{"x":2369,"y":2330,"x2":3148,"y2":2330},{"x":2408,"y":2348,"x2":3186,"y2":2341},{"x":2447,"y":2367,"x2":3225,"y2":2353},{"x":2486,"y":2385,"x2":3263,"y2":2364},{"x":2525,"y":2404,"x2":3301,"y2":2375},{"x":2564,"y":2422,"x2":3340,"y2":2386},{"x":2603,"y":2441,"x2":3378,"y2":2398},{"x":2642,"y":2459,"x2":3416,"y2":2409},{"x":2681,"y":2478,"x2":3454,"y2":2420},{"x":2720,"y":2496,"x2":3493,"y2":2431},{"x":2759,"y":2514,"x2":3531,"y2":2443},{"x":2797,"y":2533,"x2":3569,"y2":2454},{"x":2836,"y":2551,"x2":3608,"y2":2465},{"x":2875,"y":2570,"x2":3646,"y2":2476},{"x":2914,"y":2588,"x2":3684,"y2":2488},{"x":2953,"y":2607,"x2":3723,"y2":2499},{"x":2992,"y":2625,"x2":3761,"y2":2510},{"x":3031,"y":2644,"x2":3799,"y2":2521},{"x":3070,"y":2662,"x2":3838,"y2":2533},{"x":3109,"y":2681,"x2":3876,"y2":2544},{"x":3148,"y":2699,"x2":3914,"y2":2555}],
"targets":[{"x":1087,"y":483},{"x":2385,"y":715},{"x":1092,"y":2306},{"x":3148,"y":2307}],
"ticks":[
{"x":245,"y":189,"t":"70"},{"x":247,"y":318,"t":"60"},{"x":256,"y":447,"t":"50"},{"x":260,"y":575,"t":"40"},{"x":268,"y":704,"t":"30"},{"x":272,"y":832,"t":"20"},{"x":281,"y":961,"t":"10"},
{"x":306,"y":1271,"t":"8"},{"x":469,"y":1363,"t":"7.5"},{"x":676,"y":1450,"t":"7"},{"x":839,"y":1539,"t":"6.5"},{"x":1046,"y":1628,"t":"6"},{"x":1150,"y":1628,"t":"1.5"},{"x":1295,"y":1556,"t":"1.7"},{"x":1444,"y":1483,"t":"1.9"},{"x":1591,"y":1414,"t":"2.1"},{"x":1735,"y":1343,"t":"2.3"},{"x":1884,"y":1271,"t":"2.5"},{"x":434,"y":1548,"t":"F: pH"},{"x":1738,"y":1548,"t":"B: (NH4)2SO4 (g L-1)"},
{"x":2306,"y":209,"t":"70"},{"x":2311,"y":334,"t":"60"},{"x":2319,"y":459,"t":"50"},{"x":2321,"y":584,"t":"40"},{"x":2330,"y":709,"t":"30"},{"x":2333,"y":833,"t":"20"},{"x":2343,"y":959,"t":"10"},
{"x":2367,"y":1258,"t":"8"},{"x":2526,"y":1347,"t":"7.5"},{"x":2724,"y":1432,"t":"7"},{"x":2885,"y":1519,"t":"6.5"},{"x":3083,"y":1605,"t":"6"},{"x":3197,"y":1605,"t":"0.25"},{"x":3338,"y":1535,"t":"0.35"},{"x":3483,"y":1465,"t":"0.45"},{"x":3627,"y":1398,"t":"0.55"},{"x":3767,"y":1328,"t":"0.65"},{"x":3911,"y":1258,"t":"0.75"},{"x":2492,"y":1528,"t":"F: pH"},{"x":3758,"y":1528,"t":"D: Yeast extract (g L-1)"},
{"x":242,"y":2008,"t":"70"},{"x":246,"y":2139,"t":"60"},{"x":255,"y":2268,"t":"50"},{"x":259,"y":2398,"t":"40"},{"x":268,"y":2527,"t":"30"},{"x":270,"y":2657,"t":"20"},{"x":281,"y":2785,"t":"10"},
{"x":305,"y":3097,"t":"8"},{"x":471,"y":3190,"t":"7.5"},{"x":676,"y":3277,"t":"7"},{"x":842,"y":3369,"t":"6.5"},{"x":1048,"y":3458,"t":"6"},{"x":1148,"y":3458,"t":"25"},{"x":1295,"y":3384,"t":"27"},{"x":1444,"y":3312,"t":"29"},{"x":1592,"y":3242,"t":"31"},{"x":1738,"y":3170,"t":"33"},{"x":1888,"y":3097,"t":"35"},{"x":434,"y":3376,"t":"F: pH"},{"x":1747,"y":3376,"t":"E: Temperature (C)"},
{"x":2297,"y":2008,"t":"70"},{"x":2301,"y":2139,"t":"60"},{"x":2308,"y":2268,"t":"50"},{"x":2312,"y":2398,"t":"40"},{"x":2320,"y":2528,"t":"30"},{"x":2324,"y":2658,"t":"20"},{"x":2334,"y":2787,"t":"10"},
{"x":2359,"y":3099,"t":"5"},{"x":2523,"y":3193,"t":"4.5"},{"x":2732,"y":3282,"t":"4"},{"x":2898,"y":3371,"t":"3.5"},{"x":3104,"y":3461,"t":"3"},{"x":3189,"y":3461,"t":"6"},{"x":3392,"y":3371,"t":"6.5"},{"x":3560,"y":3282,"t":"7"},{"x":3767,"y":3193,"t":"7.5"},{"x":3933,"y":3099,"t":"8"},{"x":2486,"y":3379,"t":"G: Incubation period (Days)"},{"x":3807,"y":3379,"t":"F: pH"}],
"ztitles":[{"x":61,"y":740,"t":"Total lipids (%)"},{"x":2130,"y":744,"t":"Total lipids (%)"},{"x":60,"y":2565,"t":"Total lipids (%)"},{"x":2113,"y":2565,"t":"Total lipids (%)"}],
"letters":[{"x":997,"y":1759,"t":"E"},{"x":3047,"y":1759,"t":"F"},{"x":997,"y":3584,"t":"G"},{"x":3047,"y":3584,"t":"H"}],
"parens":[{"x":956,"y":1756,"t":"("},{"x":1038,"y":1756,"t":")"},{"x":3008,"y":1756,"t":"("},{"x":3086,"y":1756,"t":")"},{"x":951,"y":3581,"t":"("},{"x":1043,"y":3581,"t":")"},{"x":3001,"y":3581,"t":"("},{"x":3093,"y":3581,"t":")"}]
},
"encoding":{"x":{"field":"x","type":"quantitative","scale":{"domain":[0,4031],"nice":false,"zero":false},"axis":null},"y":{"field":"y","type":"quantitative","scale":{"domain":[3650,0],"nice":false,"zero":false},"axis":null}},
"layer":[
{"data":{"name":"walls"},"mark":{"type":"rule","stroke":"#1a1a1a","strokeWidth":4},"encoding":{"x2":{"field":"x2"},"y2":{"field":"y2"}}},
{"data":{"name":"floor"},"mark":{"type":"line","fill":"#666666","stroke":"#000000","strokeWidth":4,"order":false},"encoding":{"detail":{"field":"id"}}},
{"data":{"name":"contours"},"mark":{"type":"line","strokeWidth":7.5,"interpolate":"natural","order":false},"encoding":{"detail":{"field":"id"},"stroke":{"field":"lipid","type":"quantitative","legend":null,"scale":{"domain":[22,32,42,52],"range":["#0000ff","#00ffff","#00ff00","#ffff00"],"interpolate":"rgb"}}}},
{"data":{"name":"dots"},"mark":{"type":"circle","size":250,"color":"#000000","opacity":1}},
{"data":{"values":[{"x":1092,"y":2608}]},"mark":{"type":"circle","size":1000,"fill":"#f8c8c8","stroke":"#444444","strokeWidth":2,"opacity":1}},
{"data":{"name":"surface"},"mark":{"type":"line","stroke":"transparent","strokeWidth":0,"order":false},"encoding":{"detail":{"field":"id"},"fill":{"field":"lipid","type":"quantitative","legend":null,"scale":{"domain":[22,32,42,52],"range":["#0000ff","#00ffff","#00ff00","#ffff00"],"interpolate":"rgb"}}}},
{"data":{"name":"mesh"},"mark":{"type":"rule","stroke":"#000000","strokeWidth":3},"encoding":{"x2":{"field":"x2"},"y2":{"field":"y2"}}},
{"data":{"values":[{"x":1087,"y":687}]},"mark":{"type":"circle","size":760,"fill":"#d80000","stroke":"#300000","strokeWidth":2,"opacity":1}},
{"data":{"name":"targets"},"mark":{"type":"circle","size":2827,"color":"#000000","opacity":1}},
{"data":{"name":"targets"},"mark":{"type":"circle","size":2206,"color":"#a80000","opacity":1}},
{"data":{"name":"targets"},"mark":{"type":"circle","size":1257,"color":"#200000","opacity":1}},
{"data":{"name":"targets"},"mark":{"type":"circle","size":1018,"color":"#e8e8e8","opacity":1}},
{"data":{"name":"targets"},"mark":{"type":"circle","size":531,"color":"#400000","opacity":1}},
{"data":{"name":"targets"},"mark":{"type":"circle","size":346,"color":"#d80000","opacity":1}},
{"data":{"name":"ticks"},"mark":{"type":"text","font":"Open Sans","fontSize":50,"fill":"#333333","align":"center","baseline":"middle"},"encoding":{"text":{"field":"t"}}},
{"data":{"name":"ztitles"},"mark":{"type":"text","font":"Open Sans","fontSize":50,"fill":"#333333","align":"center","baseline":"middle","angle":270},"encoding":{"text":{"field":"t"}}},
{"data":{"name":"letters"},"mark":{"type":"text","font":"Liberation Serif","fontSize":80,"fontWeight":"bold","fill":"#000000","align":"center","baseline":"middle"},"encoding":{"text":{"field":"t"}}},
{"data":{"name":"parens"},"mark":{"type":"text","font":"Liberation Serif","fontSize":80,"fill":"#000000","align":"center","baseline":"middle"},"encoding":{"text":{"field":"t"}}}
]}
